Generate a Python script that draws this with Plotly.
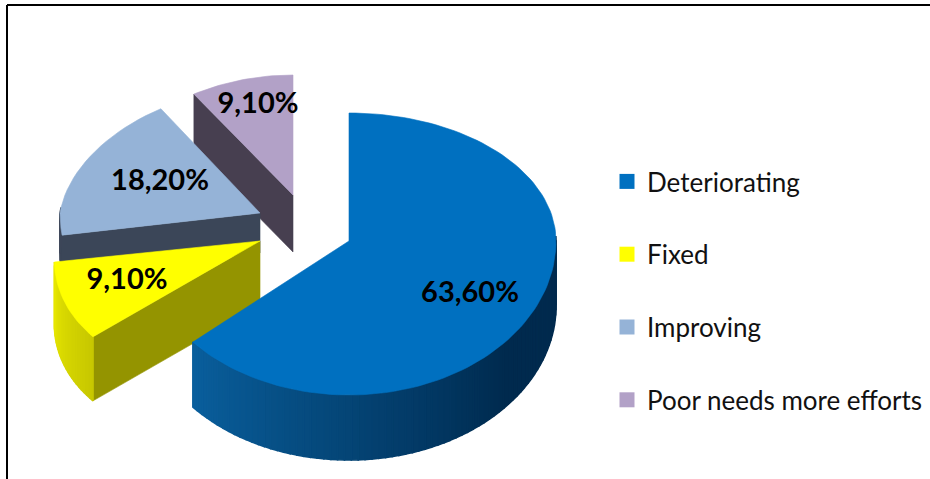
import math
import plotly.graph_objects as go

categories = ["Deteriorating", "Fixed", "Improving", "Poor needs more efforts"]
values = [63.6, 9.1, 18.2, 9.1]
labels = ["63,60%", "9,10%", "18,20%", "9,10%"]

TOP = ["#0070c0", "#ffff00", "#95b3d7", "#b2a1c7"]
FACE = [None, "#949400", "#3b4658", "#473f50"]
WALL_A = [(10, 96, 158), (200, 200, 0), (60, 70, 88), (70, 62, 80)]
WALL_B = [(0, 42, 78), (232, 232, 0), (60, 70, 88), (70, 62, 80)]
APEX = [(349, 241), (260, 241), (260, 213), (293, 195)]
RX = [207, 204, 200, 200]
RY_BACK = [128, 124, 124, 120]
RY_FRONT = [154, 146, 154, 154]
FRONT_BULGE = [0, 0.13, 0, 0]
DEPTH = [65, 64, 40, 57]
LABEL_XY = [(470, 295), (127, 282), (160, 183), (258, 106)]
FONT = "Lato, Liberation Sans, sans-serif"


def pt(i, th):
    cx, cy = APEX[i]
    c, s = math.cos(th), math.sin(th)
    if c > 0:
        rx = RX[i] * (1 - (0.1 if i in (2, 3) else 0.0) * c)
        ry = RY_BACK[i]
    else:
        rx = RX[i] * (1 - FRONT_BULGE[i] * c)
        ry = RY_FRONT[i]
    return cx + rx * s, cy - ry * c


def poly(fig, pts, color, lw=0.6):
    xs = [p[0] for p in pts] + [pts[0][0]]
    ys = [p[1] for p in pts] + [pts[0][1]]
    fig.add_trace(go.Scatter(x=xs, y=ys, mode="lines", fill="toself", fillcolor=color,
                             line=dict(color=color, width=lw), hoverinfo="skip", showlegend=False))


def mix(a, b, t):
    return "rgb(%d,%d,%d)" % tuple(a[k] + (b[k] - a[k]) * t for k in range(3))


total = sum(values)
spans = []
start = 0.0
for v in values:
    end = start + v / total * 2 * math.pi
    spans.append((start, end))
    start = end

fig = go.Figure()

for i in (3, 2, 1, 0):
    a, b = spans[i]
    n = 120 if i == 0 else 24
    arc = [a + (b - a) * k / n for k in range(n + 1)]
    d = DEPTH[i]
    if i in (1, 2, 3):
        p = pt(i, a)
        ax = APEX[i]
        poly(fig, [ax, p, (p[0], p[1] + d), (ax[0], ax[1] + d)], FACE[i])
    for k in range(n):
        t0, t1 = arc[k], arc[k + 1]
        if math.cos((t0 + t1) / 2) > 0.05:
            continue
        p0, p1 = pt(i, t0), pt(i, t1)
        if i == 0:
            tt = min(1, max(0, (b - t0) / (b - math.pi * 0.72)))
            col = mix(WALL_A[i], WALL_B[i], tt)
        else:
            col = mix(WALL_A[i], WALL_B[i], k / n)
        poly(fig, [p0, p1, (p1[0], p1[1] + d), (p0[0], p0[1] + d)], col, lw=1.6)
    poly(fig, [APEX[i]] + [pt(i, t) for t in arc], TOP[i])

for lab, xy in zip(labels, LABEL_XY):
    fig.add_trace(go.Scatter(x=[xy[0]], y=[xy[1]], mode="text", text=[lab], textposition="middle center",
                             textfont=dict(family=FONT, size=29, color="#000000", weight=700),
                             hoverinfo="skip", showlegend=False))

for name, col in zip(categories, TOP):
    fig.add_trace(go.Scatter(x=[None], y=[None], mode="markers", name=name, legendgroup=name,
                             marker=dict(symbol="square", size=15, color=col)))

fig.update_layout(
    width=930, height=479, margin=dict(l=0, r=0, t=0, b=0),
    paper_bgcolor="white", plot_bgcolor="white",
    xaxis=dict(range=[0, 930], visible=False, fixedrange=True),
    yaxis=dict(range=[479, 0], visible=False, fixedrange=True),
    legend=dict(x=607 / 930, y=1 - 158 / 479, xanchor="left", yanchor="top", tracegroupgap=36,
                itemwidth=30, entrywidth=268, entrywidthmode="pixels", bgcolor="rgba(0,0,0,0)",
                font=dict(family=FONT, size=26, color="#111111")),
    shapes=[
        dict(type="line", xref="paper", yref="paper", x0=7 / 930, x1=1, y0=1 - 5 / 479, y1=1 - 5 / 479,
             line=dict(color="#000000", width=2)),
        dict(type="line", xref="paper", yref="paper", x0=7 / 930, x1=7 / 930, y0=1 - 5 / 479, y1=0,
             line=dict(color="#000000", width=2)),
    ],
)
fig.write_html("out.html", config={"displayModeBar": False},
               post_script="document.body.style.margin='0';document.body.style.overflow='hidden';")
